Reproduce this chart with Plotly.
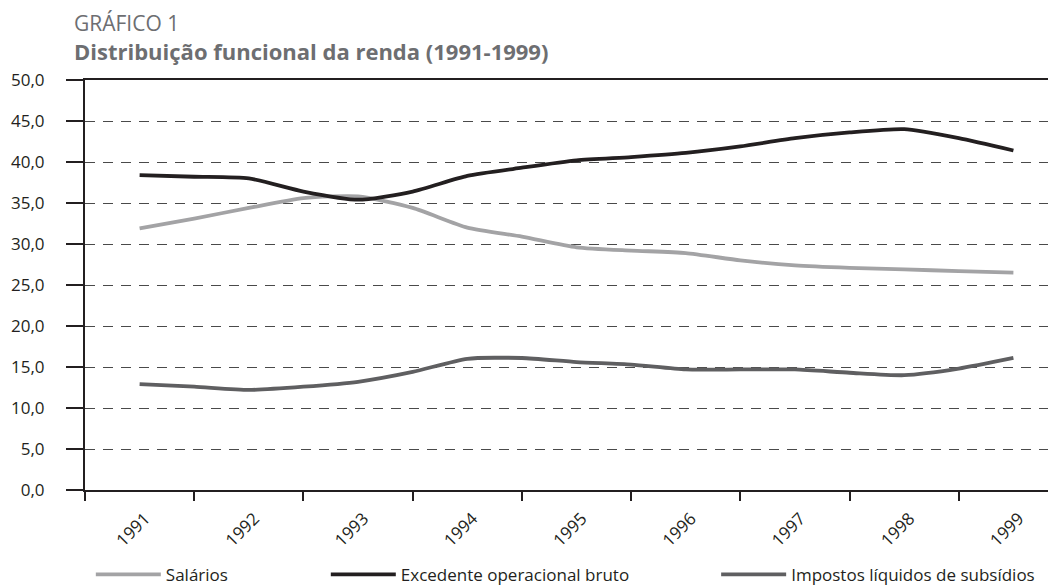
import plotly.graph_objects as go

# Semi-annual reading points (1991 .. 1999)
periodos = [1991.0, 1991.5, 1992.0, 1992.5, 1993.0, 1993.5, 1994.0, 1994.5, 1995.0,
            1995.5, 1996.0, 1996.5, 1997.0, 1997.5, 1998.0, 1998.5, 1999.0]
salarios = [31.9, 33.1, 34.4, 35.6, 35.8, 34.4, 32.0, 30.9, 29.6,
            29.2, 28.9, 28.0, 27.4, 27.1, 26.9, 26.7, 26.5]
excedente = [38.4, 38.2, 38.0, 36.4, 35.4, 36.4, 38.3, 39.3, 40.2,
             40.6, 41.1, 41.9, 42.9, 43.6, 44.0, 42.9, 41.4]
impostos = [12.9, 12.6, 12.2, 12.6, 13.2, 14.4, 16.0, 16.1, 15.6,
            15.3, 14.7, 14.7, 14.7, 14.3, 14.0, 14.8, 16.1]

anos = [1991, 1992, 1993, 1994, 1995, 1996, 1997, 1998, 1999]
rotulos_anos = [str(a) for a in anos]
y_ticks = [0, 5, 10, 15, 20, 25, 30, 35, 40, 45, 50]

series = [
    ("Salários", salarios, "#a3a3a5", "legend"),
    ("Excedente operacional bruto", excedente, "#231f20", "legend2"),
    ("Impostos líquidos de subsídios", impostos, "#5f5f61", "legend3"),
]

fig = go.Figure()
for nome, vals, cor, leg in series:
    fig.add_trace(go.Scatter(
        x=periodos, y=vals, name=nome, mode="lines",
        line=dict(color=cor, width=3.8, shape="spline", smoothing=0.6),
        legend=leg, hoverinfo="skip",
    ))

FONT = "Open Sans"
legend_common = dict(
    orientation="h", yanchor="middle", xanchor="left", y=-0.207,
    font=dict(family=FONT, size=17, color="#231f20"),
    itemwidth=65, bgcolor="rgba(0,0,0,0)", borderwidth=0,
)

# the page adds an 8px body margin, so the figure is 8px smaller than the window
fig.update_layout(
    width=1048, height=577,
    margin=dict(l=77, r=0, t=72, b=95, autoexpand=False),
    paper_bgcolor="white", plot_bgcolor="white",
    separators=",.",
    showlegend=True,
    legend=dict(x=0.006, **legend_common),
    legend2=dict(x=0.248, **legend_common),
    legend3=dict(x=0.65, **legend_common),
    xaxis=dict(
        range=[1990.5, 1999.39], automargin=False,
        tickmode="array", tickvals=[a + 0.05 for a in anos], ticktext=rotulos_anos,
        ticks="", tickangle=-45,
        tickfont=dict(family=FONT, size=17, color="#231f20"),
        ticklabelstandoff=10,
        showgrid=False, zeroline=False,
        showline=True, linecolor="#231f20", linewidth=2, mirror=True,
        minor=dict(tickmode="linear", tick0=1990.5, dtick=1, ticks="outside",
                   ticklen=9, tickwidth=2, tickcolor="#231f20", showgrid=False),
    ),
    yaxis=dict(
        range=[0, 50], automargin=False,
        tickmode="array", tickvals=y_ticks, tickformat=".1f",
        ticks="outside", ticklen=17, tickwidth=2, tickcolor="#231f20",
        tickfont=dict(family=FONT, size=17, color="#231f20"),
        ticklabelstandoff=18,
        showgrid=True, gridcolor="#4a4a4a", gridwidth=1.3, griddash="10px,8px",
        zeroline=False, showline=True, linecolor="#231f20", linewidth=2,
    ),
    annotations=[
        dict(text="GRÁFICO 1", xref="paper", yref="paper", x=-0.0134, y=1.14,
             xanchor="left", yanchor="middle", showarrow=False,
             font=dict(family=FONT, size=21, color="#6d6e71")),
        dict(text="<b>Distribuição funcional da renda (1991-1999)</b>",
             xref="paper", yref="paper", x=-0.0134, y=1.07,
             xanchor="left", yanchor="middle", showarrow=False,
             font=dict(family=FONT, size=22, color="#6d6e71")),
    ],
)

fig.write_html("out.html")
